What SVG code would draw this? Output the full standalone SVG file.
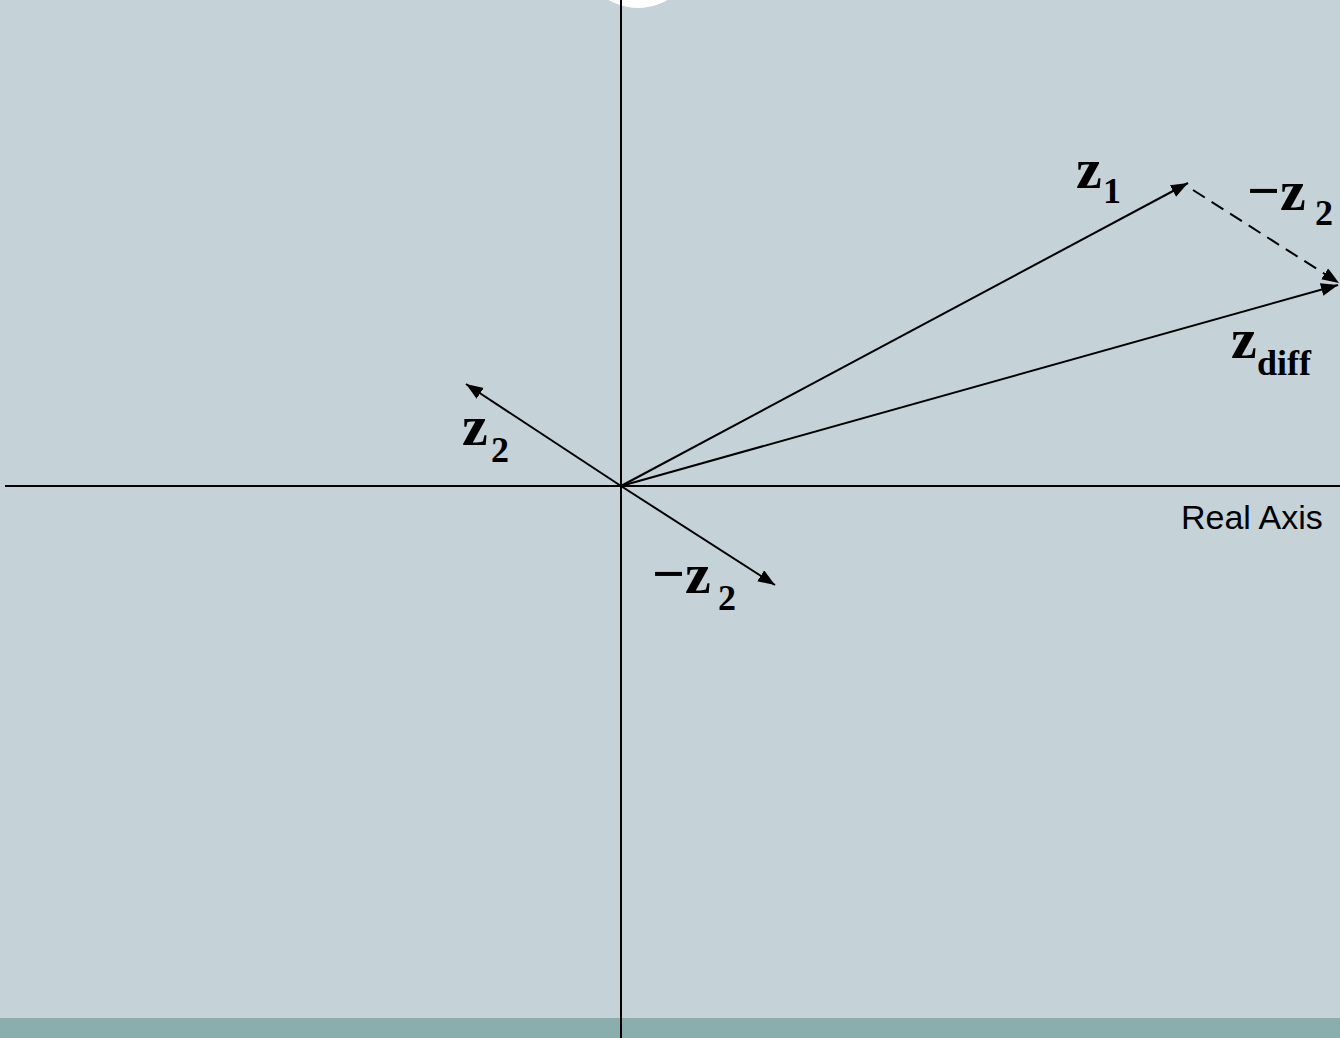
<svg xmlns="http://www.w3.org/2000/svg" width="1340" height="1038" viewBox="0 0 1340 1038">
<style>
.ax{stroke:#000;stroke-width:2;fill:none}
.vec{stroke:#000;stroke-width:2;fill:none;marker-end:url(#ah)}
.dash{stroke-dasharray:14 8}
.lbl{font-family:"Liberation Serif","Times New Roman",Times,serif;font-weight:700;fill:#000}
.big{font-size:58px}
.sub{font-size:36px}
.axl{font-family:"Liberation Sans",Arial,sans-serif;font-size:34px;fill:#000}
</style>
<defs>
<marker id="ah" markerUnits="userSpaceOnUse" markerWidth="20" markerHeight="14" refX="17" refY="6.5" orient="auto">
<path d="M0,0 L17,6.5 L0,13 Z" fill="#000"/>
</marker>
</defs>
<rect x="0" y="0" width="1340" height="1038" fill="#c5d2d8"/>
<rect x="0" y="1018" width="1340" height="20" fill="#8aadad"/>
<circle cx="638" cy="-50" r="58" fill="#fff"/>
<g id="axes">
<line class="ax" x1="621" y1="0" x2="621" y2="1038"/>
<line class="ax" x1="5" y1="486" x2="1340" y2="486"/>
</g>
<g id="connectors">
<line class="vec" x1="621" y1="486" x2="1188" y2="183"/>
<line class="vec" x1="621" y1="486" x2="1338" y2="285"/>
<line class="vec dash" x1="1193" y1="190" x2="1339" y2="283"/>
<line class="vec" x1="621" y1="486" x2="466" y2="384"/>
<line class="vec" x1="621" y1="486" x2="775" y2="585"/>
</g>
<g id="label-z1"><text class="lbl big" x="1076" y="188">z</text><text class="lbl sub" x="1103" y="203">1</text></g>
<g id="label-mz2-top"><text class="lbl big" x="1247" y="210">−z</text><text class="lbl sub" x="1315" y="225">2</text></g>
<g id="label-zdiff"><text class="lbl big" x="1231" y="358">z</text><text class="lbl sub" x="1257" y="375">diff</text></g>
<g id="label-z2"><text class="lbl big" x="462" y="445">z</text><text class="lbl sub" x="491" y="462">2</text></g>
<g id="label-mz2"><text class="lbl big" x="652" y="593">−z</text><text class="lbl sub" x="718" y="610">2</text></g>
<g id="label-real"><text class="axl" x="1181" y="529">Real Axis</text></g>
</svg>
